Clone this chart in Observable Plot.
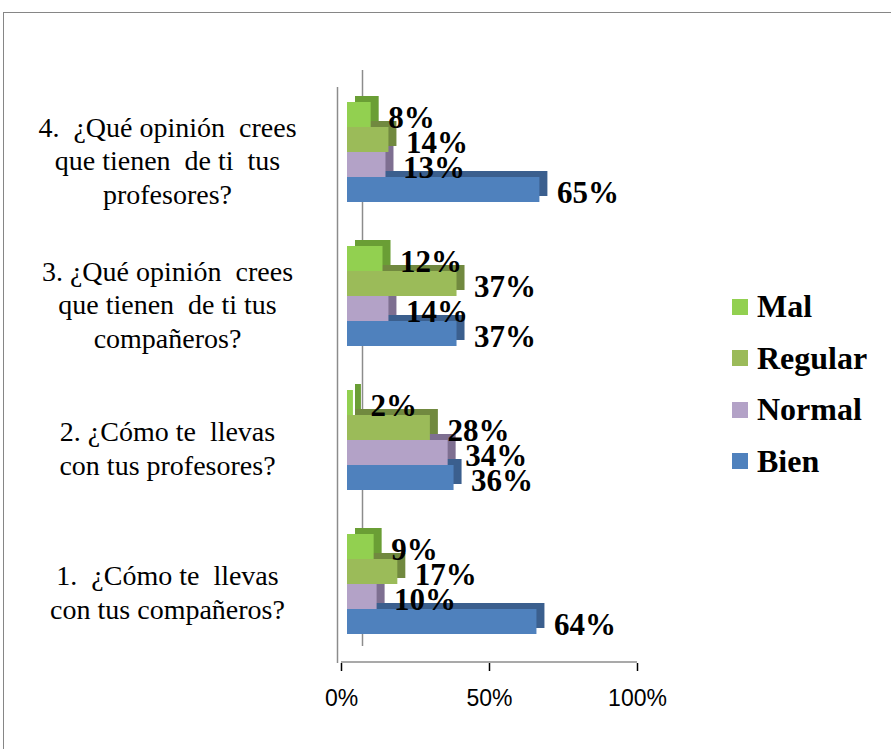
<!DOCTYPE html>
<html><head><meta charset="utf-8">
<script src="https://cdn.jsdelivr.net/npm/d3@7"></script>
<script src="https://cdn.jsdelivr.net/npm/@observablehq/plot@0.6"></script>
<style>
html,body{margin:0;padding:0;background:#fff;width:891px;height:749px;overflow:hidden;}
#wrap{position:relative;width:891px;height:749px;}
#border{position:absolute;left:3px;top:12px;width:950px;height:800px;border:1.5px solid #868686;box-sizing:border-box;}
#chart{position:absolute;left:0;top:0;}
#chart svg text{white-space:pre;}
#chart svg [aria-label="x-axis tick"]{stroke:#8c8c8c;stroke-width:1.5px;}
#chart svg g[aria-label="x-axis tick label"]{font-size:23px;font-family:"Liberation Sans",Arial,sans-serif;fill:#000;}
#chart svg g[aria-label="x-axis"] text{font-size:23px;}
#chart svg g[aria-label="x-axis"] line{stroke:#8c8c8c;stroke-width:1.5px;}
#chart svg g[aria-label="x-axis"] path{display:none;}
#legend{position:absolute;left:732px;top:281px;font-family:"Liberation Serif","Times New Roman",serif;font-weight:bold;font-size:32px;color:#000;}
.item{display:flex;align-items:center;height:51.5px;}
.sw{width:16px;height:16px;margin-right:9px;flex:none;}
</style></head><body>
<div id="wrap"><div id="border"></div><div id="chart"></div><div id="legend"></div></div>
<script>
// Questions, bottom (1) to top (4)
const questions = [
  "1.  ¿Cómo te  llevas\ncon tus compañeros?",
  "2. ¿Cómo te  llevas\ncon tus profesores?",
  "3. ¿Qué opinión  crees\nque tienen  de ti tus\ncompañeros?",
  "4.  ¿Qué opinión  crees\nque tienen  de ti  tus\nprofesores?"
];
const series = ["Mal", "Regular", "Normal", "Bien"];
const mal     = [9, 2, 12, 8];
const regular = [17, 28, 37, 14];
const normal  = [10, 34, 14, 13];
const bien    = [64, 36, 37, 65];
const xTicks = [0, 50, 100];
const frontColors = ["#92D050", "#9BBB59", "#B3A2C7", "#4F81BD"];
const sideColors  = ["#6A9E35", "#71893F", "#7E6F91", "#3B5F8E"];

const valuesBySeries = [mal, regular, normal, bien];
const rows = [];
questions.forEach((q, i) => series.forEach((s, j) => rows.push({q, s, j, v: valuesBySeries[j][i]})));

const serif = '"Liberation Serif", "Times New Roman", serif';
const gray = "#8c8c8c";

const chart = Plot.plot({
  width: 891, height: 749,
  marginLeft: 341, marginRight: 254, marginTop: 85, marginBottom: 85,
  style: {fontFamily: '"Liberation Sans", Arial, sans-serif', fontSize: "23px", color: "#000", background: "transparent", overflow: "visible"},
  x: {domain: [0, 100], ticks: xTicks, tickFormat: d => d + "%", label: null, tickSize: 8, tickPadding: 18},
  y: {domain: series, axis: null, paddingInner: 0, paddingOuter: 0.79, align: 0.33},
  fy: {domain: questions.slice().reverse(), axis: null, padding: 0},
  color: {type: "identity"},
  marks: [
    // 3D wall lines
    Plot.ruleX([0], {dx: -4, stroke: gray, strokeWidth: 1.5}),
    Plot.ruleX([0], {dx: 21, dy: -17, stroke: gray, strokeWidth: 1.5}),
    // baseline of x axis (bottom facet)
    Plot.ruleY([questions[0]], {fy: d => d, y: () => "Bien", x1: 0, x2: 100, dy: 40, stroke: gray, strokeWidth: 1.5}),
    // bar depth (top and side faces)
    Plot.barX(rows, {fy: "q", y: "s", x: "v", fill: d => sideColors[d.j], dx: 14, dy: -6}),
    // bar fronts
    Plot.barX(rows, {fy: "q", y: "s", x: "v", fill: d => frontColors[d.j], dx: 6}),
    // value labels
    Plot.text(rows, {fy: "q", y: "s", x: "v", text: d => d.v + "%", dx: 23, dy: 3, textAnchor: "start",
      fontWeight: "bold", fontSize: 31, fontFamily: serif, fill: "#000"}),
    // category labels
    Plot.text(questions, {fy: d => d, text: d => d, frameAnchor: "left", dx: -174, textAnchor: "middle",
      lineAnchor: "middle", lineHeight: 1.2, fontSize: 28, fontFamily: serif, fill: "#000"})
  ]
});
document.getElementById("chart").appendChild(chart);

const legend = document.getElementById("legend");
series.forEach((s, j) => {
  const item = document.createElement("div");
  item.className = "item";
  const sw = document.createElement("div");
  sw.className = "sw";
  sw.style.background = frontColors[j];
  const t = document.createElement("span");
  t.textContent = s;
  item.appendChild(sw);
  item.appendChild(t);
  legend.appendChild(item);
});
</script>
</body></html>
